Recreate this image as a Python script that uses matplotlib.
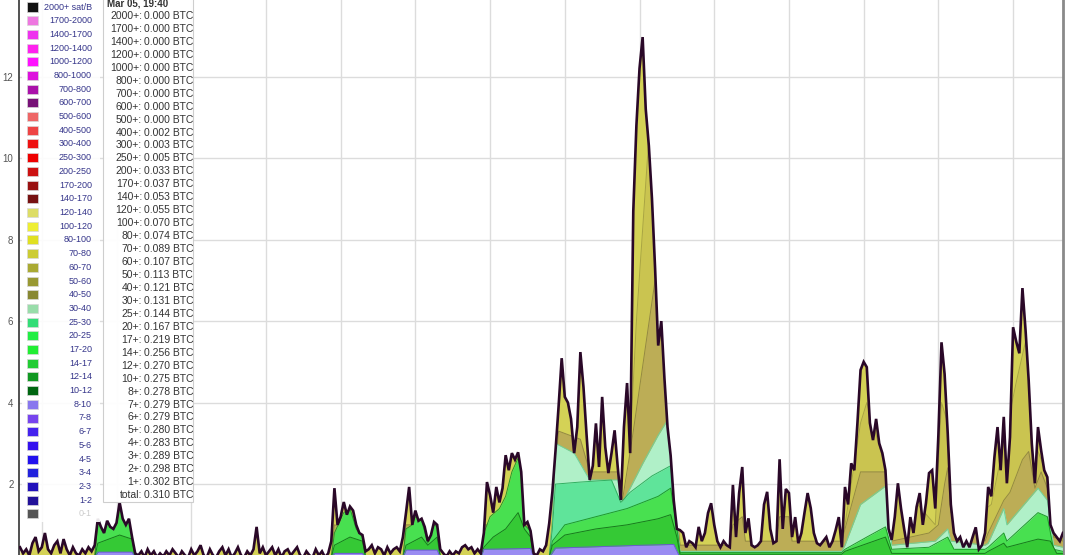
import matplotlib
matplotlib.use("Agg")
import matplotlib.pyplot as plt
from matplotlib.patches import Rectangle
import numpy as np

plt.rcParams['font.family'] = ['Liberation Sans', 'DejaVu Sans']

# total mempool height, one value per hour
total = [
    0.45, 0.3, 0.4, 0.25, 0.55, 0.7, 0.35, 0.45, 0.8, 0.4,
    0.3, 0.5, 0.6, 0.3, 0.65, 0.4, 0.25, 0.45, 0.3, 0.25,
    0.4, 0.3, 0.45, 0.35, 0.5, 1.15, 0.95, 0.8, 1.1, 0.95,
    0.9, 1.05, 1.55, 1.15, 1.0, 1.15, 0.7, 0.3, 0.25, 0.35,
    0.2, 0.4, 0.25, 0.35, 0.2, 0.3, 0.22, 0.35, 0.25, 0.4,
    0.3, 0.2, 0.35, 0.25, 0.2, 0.4, 0.25, 0.35, 0.5, 0.25,
    0.2, 0.4, 0.25, 0.2, 0.35, 0.45, 0.25, 0.4, 0.2, 0.3,
    0.45, 0.25, 0.2, 0.35, 0.25, 0.4, 0.95, 0.3, 0.45, 0.25,
    0.35, 0.45, 0.25, 0.4, 0.2, 0.35, 0.4, 0.25, 0.35, 0.45,
    0.25, 0.2, 0.35, 0.25, 0.2, 0.4, 0.25, 0.35, 0.2, 0.3,
    0.6, 1.9, 1.0, 1.2, 1.56, 1.25, 1.45, 1.35, 1.0, 0.8,
    0.75, 0.35, 0.4, 0.5, 0.3, 0.45, 0.4, 0.25, 0.45, 0.3,
    0.4, 0.45, 0.35, 0.7, 1.3, 1.93, 1.0, 1.35, 1.1, 1.15,
    0.95, 0.6, 0.75, 1.07, 1.0, 0.4, 0.3, 0.22, 0.35, 0.25,
    0.35, 0.3, 0.45, 0.5, 0.4, 0.45, 0.3, 0.4, 0.3, 0.8,
    2.05, 1.73, 1.3, 1.93, 1.55, 1.9, 2.71, 2.34, 2.76, 2.6,
    2.78, 2.3, 1.0, 1.07, 0.85, 0.3, 0.25, 0.4, 0.35, 0.5,
    1.04, 1.8, 2.8, 3.9, 5.09, 4.14, 4.0, 3.6, 2.76, 3.4,
    5.24, 4.38, 3.2, 2.1, 2.45, 3.49, 2.42, 4.14, 2.91, 2.27,
    2.76, 3.32, 2.42, 1.61, 3.4, 4.48, 2.76, 8.7, 10.8, 12.2,
    12.97, 11.2, 10.3, 9.0, 7.3, 5.4, 6.0, 4.6, 3.4, 2.7,
    1.6, 0.9, 0.87, 0.8, 0.45, 0.6, 0.55, 0.45, 0.95, 0.6,
    0.8, 1.29, 1.53, 1.0, 0.6, 0.45, 0.6, 0.5, 0.45, 1.98,
    0.7, 1.78, 2.42, 0.8, 1.16, 0.5, 0.45, 0.5, 0.6, 1.5,
    1.81, 0.9, 0.55, 0.6, 2.61, 0.9, 1.88, 1.78, 0.7, 1.19,
    0.55, 0.8, 1.3, 1.78, 1.41, 0.8, 0.55, 0.5, 0.6, 0.7,
    0.45, 0.6, 0.87, 1.19, 0.45, 1.93, 1.5, 2.51, 2.34, 3.5,
    4.8, 5.0, 4.87, 3.5, 3.08, 3.6, 3.0, 2.76, 2.34, 0.9,
    0.63, 1.2, 2.02, 1.4, 0.9, 0.45, 1.19, 0.8, 1.44, 1.78,
    1.0, 1.53, 2.27, 2.34, 1.4, 3.2, 5.48, 4.7, 3.25, 1.5,
    0.8, 0.6, 0.7, 0.45, 0.6, 0.45, 0.7, 0.94, 0.4, 0.5,
    0.8, 1.93, 1.7, 2.66, 3.4, 2.34, 3.65, 2.02, 3.15, 5.85,
    5.5, 5.21, 6.81, 5.78, 4.55, 3.0, 2.02, 3.4, 2.83, 2.34,
    2.17, 1.0, 0.8, 0.7, 0.6, 0.8,
]
hours = np.arange(len(total))

# cumulative band tops (hour, height) read at turning points
y1_h = [0, 195, 196, 198, 202, 204, 206, 208, 210, 212, 264, 270, 272, 278,
        294, 296, 298, 300, 312, 316, 320, 323, 326, 330, 335]
y1_v = [0.2, 0.2, 3.0, 6.0, 10.5, 9.0, 6.5, 4.0, 2.8, 0.5, 0.5, 3.5, 4.0, 2.4,
        1.0, 4.0, 3.5, 0.8, 1.5, 3.0, 4.5, 5.5, 3.0, 2.2, 0.6]

olive_h = [0, 24, 25, 36, 37, 100, 101, 110, 111, 123, 124, 134, 135, 148, 149, 164, 165,
           170, 171, 173, 180, 183, 192, 193.5, 196, 197, 204, 206, 208, 210, 211, 212,
           228, 229, 232, 233, 243, 244, 247, 248, 264, 265, 270, 278, 280,
           292, 295, 297, 298, 299, 310, 311, 316, 318, 322, 324, 326, 328, 330, 332, 335]
olive_v = [0.2, 0.2, 1.2, 0.8, 0.2, 0.2, 1.0, 0.8, 0.2, 0.2, 1.0, 1.0, 0.2, 0.2, 1.0, 1.0, 0.2,
           0.2, 1.1, 3.3, 3.1, 2.3, 2.3, 1.6, 2.8, 3.3, 7.0, 7.0, 3.7, 2.8, 1.1, 0.5,
           0.5, 1.0, 1.2, 0.6, 0.6, 1.2, 1.2, 0.6, 0.6, 0.9, 2.3, 2.3, 0.6,
           0.8, 1.0, 2.0, 2.4, 1.3, 0.6, 0.8, 1.6, 1.8, 2.6, 2.8, 1.9, 2.3, 1.9, 0.7, 0.6]

mint_h = [0, 170, 171, 172, 178, 183, 192, 193.5, 200, 205, 208, 210, 211, 212,
          264, 265, 270, 278, 279, 280, 294, 298, 299, 310, 311, 316, 317, 327, 330, 332, 335]
mint_v = [0.2, 0.2, 1.0, 3.0, 2.76, 2.1, 2.1, 1.53, 2.5, 3.2, 3.57, 2.7, 1.0, 0.35,
          0.35, 0.5, 1.5, 1.95, 1.5, 0.5, 0.6, 0.9, 0.6, 0.5, 0.55, 1.4, 1.0, 1.9, 1.6, 0.5, 0.45]

g3_h = [0, 170, 171, 172, 180, 190, 193, 196, 203, 209, 211, 212, 335]
g3_v = [0.2, 0.2, 0.9, 2.0, 2.05, 2.1, 1.55, 1.8, 2.2, 2.45, 1.0, 0.2, 0.2]

g2_h = [0, 24, 25, 31, 32, 35, 36, 37, 100, 101, 104, 106, 108, 110, 111,
        123, 124, 126, 127, 129, 131, 133, 134, 135,
        148, 149, 151, 154, 156, 158, 160, 161, 162, 164, 165,
        170, 171, 175, 185, 195, 205, 209, 211, 212, 264, 265, 272, 278, 280,
        292, 298, 300, 310, 311, 316, 317, 327, 330, 332, 335]
g2_v = [0.2, 0.2, 1.1, 1.0, 1.4, 1.1, 0.7, 0.2, 0.2, 0.8, 1.3, 1.4, 0.9, 0.7, 0.2,
        0.2, 0.9, 1.0, 1.2, 1.1, 0.55, 1.0, 0.95, 0.2,
        0.2, 0.8, 1.2, 1.4, 1.7, 2.3, 2.64, 2.3, 1.0, 0.85, 0.2,
        0.2, 0.6, 1.0, 1.2, 1.4, 1.7, 1.9, 0.9, 0.32, 0.32, 0.4, 0.7, 0.95, 0.4,
        0.45, 0.7, 0.4, 0.4, 0.45, 0.8, 0.6, 1.3, 1.2, 0.4, 0.35]

g1_h = [0, 24, 25, 32, 36, 37, 100, 101, 106, 110, 111, 123, 124, 129, 131, 134, 135,
        148, 149, 152, 156, 160, 162, 164, 165, 170, 171, 175, 185, 195, 205, 209, 211, 212,
        264, 265, 278, 280, 310, 311, 316, 317, 327, 331, 333, 335]
g1_v = [0.2, 0.2, 0.55, 0.75, 0.65, 0.2, 0.2, 0.5, 0.7, 0.6, 0.2, 0.2, 0.5, 0.7, 0.5, 0.7, 0.2,
        0.2, 0.45, 0.7, 0.9, 1.3, 0.9, 0.7, 0.2, 0.2, 0.5, 0.75, 0.9, 1.0, 1.15, 1.25, 0.7, 0.28,
        0.28, 0.35, 0.7, 0.3, 0.3, 0.35, 0.55, 0.45, 0.65, 0.6, 0.3, 0.3]

low_h = [0, 24, 25, 36, 37, 100, 101, 110, 111, 123, 124, 134, 135, 148, 149, 164, 165,
         170, 172, 200, 210, 212, 335]
low_v = [0.2, 0.2, 0.33, 0.33, 0.2, 0.2, 0.3, 0.3, 0.2, 0.2, 0.38, 0.38, 0.2, 0.2, 0.4, 0.42, 0.2,
         0.2, 0.43, 0.5, 0.52, 0.2, 0.2]

leg_labels = ['2000+ sat/B', '1700-2000', '1400-1700', '1200-1400', '1000-1200', '800-1000',
              '700-800', '600-700', '500-600', '400-500', '300-400', '250-300', '200-250',
              '170-200', '140-170', '120-140', '100-120', '80-100', '70-80', '60-70', '50-60',
              '40-50', '30-40', '25-30', '20-25', '17-20', '14-17', '12-14', '10-12', '8-10',
              '7-8', '6-7', '5-6', '4-5', '3-4', '2-3', '1-2', '0-1']
leg_colors = ['#111111', '#ee77e0', '#ee33ee', '#ff22ee', '#ff11ff', '#dd11dd', '#aa11aa',
              '#771177', '#ee6666', '#ee4444', '#ee1111', '#ee0000', '#cc1111', '#991111',
              '#771111', '#dddd66', '#eeee33', '#e0e022', '#cccc33', '#aaaa33', '#999933',
              '#888833', '#99ddaa', '#33dd77', '#22ee44', '#22ee33', '#22cc33', '#119922',
              '#006611', '#8877ee', '#7744ee', '#4422ee', '#3311ee', '#2211ee', '#2222dd',
              '#2211bb', '#221199', '#555555']

tip_title = 'Mar 05, 19:40'
tip_labels = ['2000+', '1700+', '1400+', '1200+', '1000+', '800+', '700+', '600+', '500+',
              '400+', '300+', '250+', '200+', '170+', '140+', '120+', '100+', '80+', '70+',
              '60+', '50+', '40+', '30+', '25+', '20+', '17+', '14+', '12+', '10+', '8+',
              '7+', '6+', '5+', '4+', '3+', '2+', '1+', 'total']
tip_values = [0.000, 0.000, 0.000, 0.000, 0.000, 0.000, 0.000, 0.000, 0.000,
              0.002, 0.003, 0.005, 0.033, 0.037, 0.053, 0.055, 0.070, 0.074, 0.089,
              0.107, 0.113, 0.121, 0.131, 0.144, 0.167, 0.219, 0.256, 0.270, 0.275, 0.278,
              0.279, 0.279, 0.280, 0.283, 0.289, 0.298, 0.302, 0.310]

W, H = 1080, 555
fig = plt.figure(figsize=(W / 100, H / 100), dpi=100)
ax = fig.add_axes([19 / W, 0, 1044 / W, 1])

top = ax.fill_between(hours, 0, total, color='#d4d256', lw=0, zorder=2)
clip = top.get_paths()[0]

layers = [
    (y1_h, y1_v, '#cac450', '#a9a443'),
    (olive_h, olive_v, '#bcad56', '#948843'),
    (mint_h, mint_v, '#b0f0c8', '#6fd198'),
    (g3_h, g3_v, '#5fe49a', '#2fb060'),
    (g2_h, g2_v, '#48e050', '#1f9a2a'),
    (g1_h, g1_v, '#35c935', '#187a1c'),
    (low_h, low_v, '#9a8cf2', '#6a5ad0'),
]
for i, (kh, kv, col, ecol) in enumerate(layers):
    f = ax.fill_between(kh, 0, kv, color=col, lw=0, zorder=3 + i * 0.1)
    f.set_clip_path(clip, ax.transData)
    ln, = ax.plot(kh, kv, color=ecol, lw=0.7, zorder=3.05 + i * 0.1)
    ln.set_clip_path(clip, ax.transData)

ax.plot(hours, total, color='#2a0828', lw=1.9, zorder=6, solid_joinstyle='miter')

ax.set_xlim(-0.32, 335.03)
ax.set_ylim(0.26, 13.88)
ax.set_yticks([2, 4, 6, 8, 10, 12])
ax.set_xticks(np.arange(7, 336, 24))
ax.set_xticklabels([])
ax.grid(True, color='#dcdcdc', lw=1)
ax.set_axisbelow(True)
ax.tick_params(axis='y', length=0, pad=4, labelsize=7, labelcolor='#555555')
ax.tick_params(axis='x', length=0)
ax.spines['top'].set_visible(False)
ax.spines['bottom'].set_visible(False)
ax.spines['left'].set_color('#333333')
ax.spines['left'].set_linewidth(1.2)
ax.spines['right'].set_color('#8a8a8a')
ax.spines['right'].set_linewidth(2)

# legend
fig.add_artist(Rectangle((22 / W, 1 - 522 / H), 78 / W, 530 / H, transform=fig.transFigure,
                         facecolor='white', edgecolor='none', alpha=0.9))
for i, (lab, col) in enumerate(zip(leg_labels, leg_colors)):
    yc = 7 + 13.7 * i
    fig.add_artist(Rectangle((27 / W, 1 - (yc + 4.5) / H), 11 / W, 9 / H, transform=fig.transFigure,
                             facecolor=col, edgecolor='#d8d8d8', lw=0.5))
    tcol = '#cccccc' if lab == '0-1' else '#35358a'
    fig.text(92 / W, 1 - yc / H, lab, ha='right', va='center', fontsize=6.5, color=tcol)

# hover tooltip
fig.add_artist(Rectangle((103 / W, 1 - 502 / H), 90 / W, 510 / H, transform=fig.transFigure,
                         facecolor='white', edgecolor='#cccccc', lw=0.8, alpha=0.95))
fig.text(107 / W, 1 - 4 / H, tip_title, ha='left', va='center', fontsize=7,
         fontweight='bold', color='#333333')
for i, (lab, v) in enumerate(zip(tip_labels, tip_values)):
    yc = 16 + 12.95 * i
    fig.text(142 / W, 1 - yc / H, lab + ':', ha='right', va='center', fontsize=7.5, color='#333333')
    fig.text(144.5 / W, 1 - yc / H, f'{v:.3f} BTC', ha='left', va='center', fontsize=7.5,
             color='#333333')

fig.savefig('out.png', dpi=100)
